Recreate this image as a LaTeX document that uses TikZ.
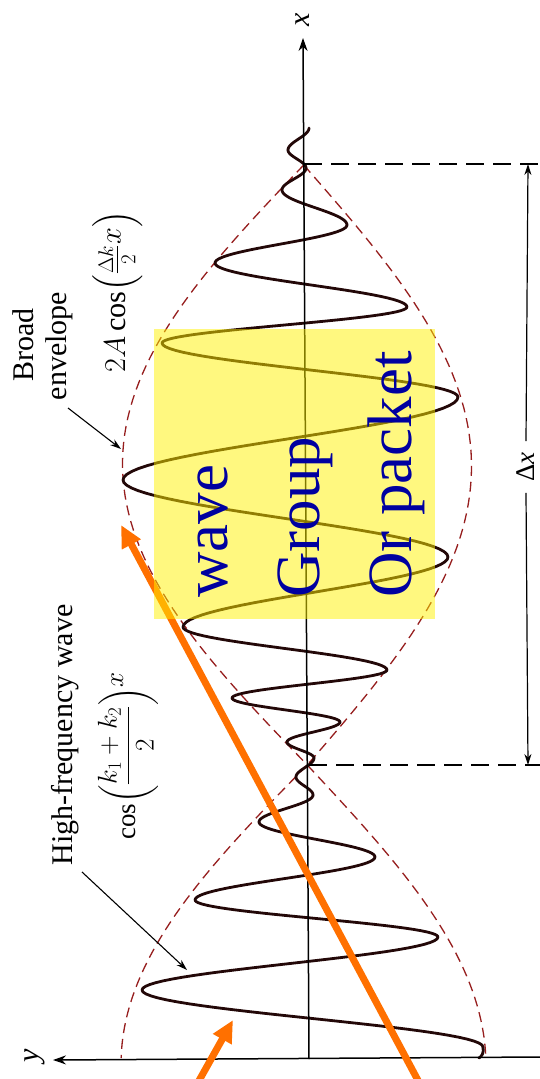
\RequirePackage{fix-cm}
\documentclass[tikz,border=0pt]{standalone}
\usepackage{amsmath}
\usepackage{graphicx}
\usepackage{fontspec}
\setmainfont{Liberation Serif}
\usetikzlibrary{arrows.meta}
\definecolor{wavecol}{RGB}{35,8,8}
\definecolor{envcol}{RGB}{150,30,30}
\definecolor{orangearr}{RGB}{255,112,0}
\definecolor{textblue}{RGB}{0,0,160}
\begin{document}
\begin{tikzpicture}[x=1pt,y=-1pt,
  wave/.style={draw=wavecol, line width=2.8pt, line cap=round, line join=round},
  envelope/.style={draw=envcol, line width=1.3pt, dash pattern=on 10pt off 6pt},
  axisline/.style={draw=black, line width=1.5pt, -{Stealth[length=13pt,width=9pt]}},
  dimline/.style={draw=black, line width=1.6pt, dash pattern=on 18pt off 9pt},
  dimarrow/.style={draw=black, line width=1.2pt, -{Stealth[length=11pt,width=7pt]}},
  thinarrow/.style={draw=black, line width=1.1pt, -{Stealth[length=11pt,width=7pt]}},
  lbl/.style={font=\fontsize{30}{33}\selectfont, rotate=90, inner sep=0pt},
  mathlbl/.style={font=\fontsize{27}{32}\selectfont, rotate=90, inner sep=0pt},
  bigtxt/.style={font=\fontsize{63}{70}\selectfont, text=textblue, rotate=90, inner sep=0pt, anchor=base west},
  orangearrow/.style={draw=orangearr, line width=7pt, -{Triangle[length=22pt,width=20pt]}}
]
\useasboundingbox (0,0) rectangle (540,1079);

% dashed envelope
\draw[envelope] plot[domain=165:765, samples=70, variable=\t] ({303+0.00588*(\t-38) - 183*sin(0.3*(\t-165))}, \t);
\draw[envelope] plot[domain=165:765, samples=70, variable=\t] ({303+0.00588*(\t-38) + 166*sin(0.3*(\t-165))}, \t);
\draw[envelope] plot[domain=765:1058, samples=40, variable=\t] ({303+0.00588*(\t-38) - 188*sin(0.3*(\t-765))}, \t);
\draw[envelope] plot[domain=765:1058, samples=40, variable=\t] ({303+0.00588*(\t-38) + 177*sin(0.3*(\t-765))}, \t);

% high-frequency wave
\foreach \yb/\xb [remember=\yb as \ya (initially 128), remember=\xb as \xa (initially 309)] in
  {150/288,168/306,190/282,225/347,263/215,307/407,343/162,397/458,480/123,557/448,627/183,670/387,698/232,722/340,742/287,758/314,777/296,795/313,822/259,857/375,900/195,937/438,990/142,1047/483}
  \draw[wave] plot[domain=0:1, samples=30, variable=\s] ({\xa+(\xb-\xa)*(1-cos(180*\s))/2}, {\ya+\s*(\yb-\ya)});
\draw[wave] (483,1047) .. controls (484,1053) and (482,1056) .. (479,1058);

% axes
\coordinate (orig) at (309,1059);
\coordinate (xtip) at (303,38);
\coordinate (yright) at (540,1057);
\coordinate (ytip) at (53,1060);
\draw[axisline] (orig) -- (xtip);
\draw[axisline] (yright) -- (ytip);
\node[lbl] (xl) at (303,20) {\textit{x}};
\node[lbl] (yl) at (35,1056) {\textit{y}};

% Delta x
\coordinate (n1) at (304,164);
\coordinate (n1r) at (540,164);
\coordinate (n2) at (309,765);
\coordinate (n2r) at (540,765);
\coordinate (dtop) at (528,164);
\coordinate (dbot) at (528,765);
\draw[dimline] (n1) -- (n1r);
\draw[dimline] (n2) -- (n2r);
\node[font=\fontsize{27}{30}\selectfont, rotate=90, inner xsep=11pt, inner ysep=0pt] (dx) at (526,467) {Δ\textit{x}};
\draw[dimarrow] (dx.east) -- (dtop);
\draw[dimarrow] (dx.west) -- (dbot);

% labels
\node[lbl, anchor=base] (broad) at (33,345) {Broad};
\node[lbl, anchor=base] (env) at (66,346) {envelope};
\node[mathlbl, anchor=base west] (envf) at (125,373) {\scalebox{1.12}{$2A\cos\Bigl(\frac{\Delta k}{2}\raisebox{4pt}{$x$}\Bigr)$}};
\node[lbl, anchor=base] (hf) at (72,735) {High-frequency wave};
\node[mathlbl, anchor=base west] (hff) at (135,840) {$\cos\biggl(\dfrac{k_1+k_2}{2}\biggr)\raisebox{12pt}{$x$}$};
\coordinate (a1s) at (68,408);
\coordinate (a1e) at (121,449);
\coordinate (a2s) at (82,872);
\coordinate (a2e) at (187,970);
\draw[thinarrow] (a1s) -- (a1e);
\draw[thinarrow] (a2s) -- (a2e);

% orange arrows
\coordinate (o1s) at (421,1086);
\coordinate (o1e) at (121,525);
\coordinate (o2s) at (196,1086);
\coordinate (o2e) at (233,1020);
\draw[orangearrow] (o1s) -- (o1e);
\draw[orangearrow] (o2s) -- (o2e);

% yellow highlight and text
\fill[yellow, opacity=0.5] (154,329) rectangle (435,619);
\node[bigtxt] (t1) at (227,598) {wave};
\node[bigtxt] (t2) at (319,598) {Group};
\node[bigtxt] (t3) at (411,598) {Or packet};
\end{tikzpicture}
\end{document}
